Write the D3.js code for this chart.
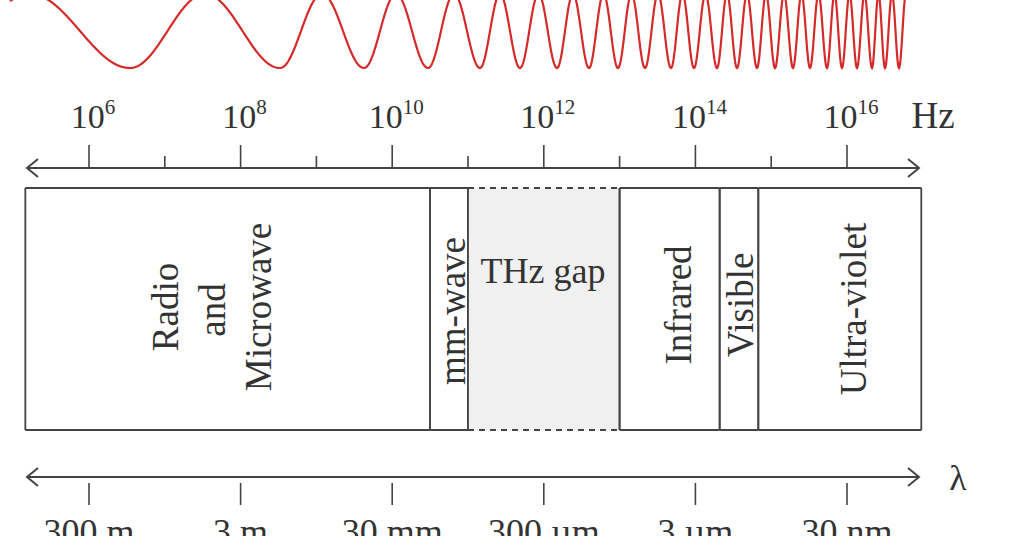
<!DOCTYPE html>
<html><head><meta charset="utf-8">
<script src="https://cdn.jsdelivr.net/npm/d3@7/dist/d3.min.js"></script>
<style>body{margin:0;background:#fff}text{font-family:"Liberation Serif","DejaVu Serif",serif;fill:#333}</style>
</head><body><svg id="c" width="1024" height="536"></svg>
<script>
const freqExps = [6, 8, 10, 12, 14, 16];
const minorExps = [7, 9, 11, 13, 15];
const wlLabels = ["300 m", "3 m", "30 mm", "300 µm", "3 µm", "30 nm"];
const bandNames = ["Radio|and|Microwave", "mm-wave", "THz gap", "Infrared", "Visible", "Ultra-violet"];
const bandStart = [5.16, 10.5, 11.0, 13.0, 14.32, 14.83];
const bandEnd = [10.5, 11.0, 13.0, 14.32, 14.83, 16.98];
// x positions (px) of successive troughs of the decorative wave
const waveTroughs = [-70,130,280,364,428,480,520,557,589,618,645,671,694,717,737,757,775,793,810,827,842,857,872,885,899];

const svg = d3.select("#c");
const x = d3.scaleLinear().domain([6, 16]).range([89, 847]);
const col = "#444";

const phase = d3.scaleLinear().domain(waveTroughs).range(waveTroughs.map((d, i) => i));
const wx = d3.range(10, 905.5, 0.5);
svg.append("path").attr("d", d3.line()(wx.map(v => [v, 31 + 37 * Math.cos(2 * Math.PI * phase(v))])))
  .attr("fill", "none").attr("stroke", "#d42a2a").attr("stroke-width", 2.2);

function arrowLine(y) {
  svg.append("line").attr("x1", 27).attr("x2", 919).attr("y1", y).attr("y2", y).attr("stroke", col).attr("stroke-width", 2);
  svg.append("path").attr("d", `M38,${y-9} L27,${y} L38,${y+9}`).attr("fill", "none").attr("stroke", col).attr("stroke-width", 2);
  svg.append("path").attr("d", `M908,${y-9} L919,${y} L908,${y+9}`).attr("fill", "none").attr("stroke", col).attr("stroke-width", 2);
}
arrowLine(168); arrowLine(477);

freqExps.forEach(e => {
  svg.append("line").attr("x1", x(e)).attr("x2", x(e)).attr("y1", 145).attr("y2", 168).attr("stroke", col).attr("stroke-width", 1.6);
  const t = svg.append("text").attr("x", x(e) + 4).attr("y", 128).attr("text-anchor", "middle").attr("font-size", 34);
  t.append("tspan").text("10");
  t.append("tspan").attr("font-size", 21).attr("dy", -14).text(e);
});
minorExps.forEach(e => svg.append("line").attr("x1", x(e)).attr("x2", x(e)).attr("y1", 156).attr("y2", 168).attr("stroke", col).attr("stroke-width", 1.6));
svg.append("text").attr("x", 933).attr("y", 128).attr("text-anchor", "middle").attr("font-size", 37).text("Hz");

wlLabels.forEach((l, i) => {
  const xx = x(freqExps[i]);
  svg.append("line").attr("x1", xx).attr("x2", xx).attr("y1", 483).attr("y2", 505).attr("stroke", col).attr("stroke-width", 1.6);
  svg.append("text").attr("x", xx).attr("y", 544).attr("text-anchor", "middle").attr("font-size", 36).text(l);
});
svg.append("text").attr("x", 958).attr("y", 490).attr("text-anchor", "middle").attr("font-size", 36).text("λ");

const y0 = 188, y1 = 430;
const labelCx = [[165, 212, 258], [452], [543], [678], [740], [853]];
const labelCy = [[307, 310, 307], [311], [283], [305], [305], [309]];
const fs = 37;
bandNames.forEach((n, i) => {
  const a = x(bandStart[i]), b = x(bandEnd[i]);
  const thz = n === "THz gap";
  svg.append("rect").attr("x", a).attr("y", y0).attr("width", b - a).attr("height", y1 - y0).attr("fill", thz ? "#f0f0f0" : "none");
  [a, b].forEach(p => svg.append("line").attr("x1", p).attr("y1", y0).attr("x2", p).attr("y2", y1).attr("stroke", col).attr("stroke-width", 1.8));
  [y0, y1].forEach(yy => svg.append("line").attr("x1", a).attr("x2", b).attr("y1", yy).attr("y2", yy).attr("stroke", col).attr("stroke-width", 2).attr("stroke-dasharray", thz ? "6,5" : null));
  if (thz) {
    svg.append("text").attr("x", labelCx[i][0]).attr("y", labelCy[i][0]).attr("text-anchor", "middle").attr("font-size", 36).text(n);
  } else {
    n.split("|").forEach((ln, k) => {
      svg.append("text").attr("transform", `translate(${labelCx[i][k] + 0.35 * fs},${labelCy[i][k]}) rotate(-90)`)
        .attr("text-anchor", "middle").attr("font-size", fs).text(ln);
    });
  }
});
</script></body></html>
